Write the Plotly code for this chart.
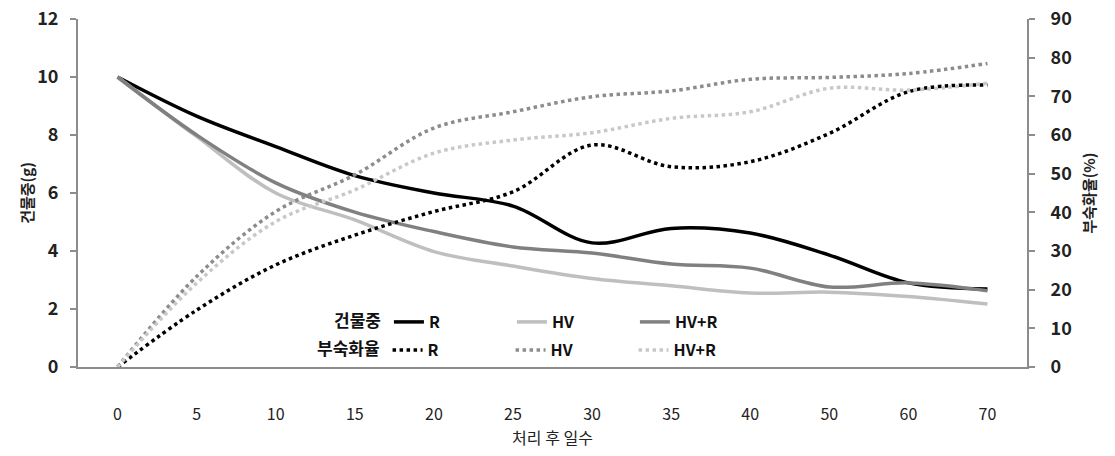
import plotly.graph_objects as go

days = ['0', '5', '10', '15', '20', '25', '30', '35', '40', '50', '60', '70']

# 건물중 (g) - left axis
dw_R = [10, 8.65, 7.6, 6.6, 6.0, 5.55, 4.28, 4.78, 4.62, 3.86, 2.9, 2.69]
dw_HV = [10, 7.95, 6.0, 5.07, 3.98, 3.48, 3.05, 2.8, 2.55, 2.58, 2.43, 2.17]
dw_HVR = [10, 8.0, 6.35, 5.34, 4.67, 4.14, 3.93, 3.55, 3.41, 2.76, 2.9, 2.63]

# 부숙화율 (%) - right axis
min_R = [0, 14.7, 26.4, 34.1, 40.2, 45.3, 57.4, 51.8, 53.1, 60.4, 71.2, 72.9]
min_HV = [0, 23.4, 40.2, 49.7, 61.8, 66.0, 69.9, 71.4, 74.4, 74.9, 75.9, 78.5]
min_HVR = [0, 21.7, 37.6, 45.8, 55.3, 58.7, 60.6, 64.3, 66.0, 72.1, 71.6, 73.4]

names = ['R', 'HV', 'HV+R']
solid_colors = ['#000000', '#bfbfbf', '#808080']
dot_colors = ['#000000', '#8c8c8c', '#c8c8c8']

FONT = 'Noto Sans CJK KR'

fig = go.Figure()

for name, ys, col in zip(names, [dw_R, dw_HV, dw_HVR], solid_colors):
    fig.add_trace(go.Scatter(
        x=days, y=ys, name=name, mode='lines',
        line=dict(color=col, width=3.5, shape='spline', smoothing=1.0),
        legend='legend', yaxis='y'))

for name, ys, col in zip(names, [min_R, min_HV, min_HVR], dot_colors):
    fig.add_trace(go.Scatter(
        x=days, y=ys, name=name, mode='lines',
        line=dict(color=col, width=3.5, dash='dot', shape='spline', smoothing=1.0),
        legend='legend2', yaxis='y2'))

W, H = 1115, 456
L, R, T, B = 78, 88, 19, 89
pw = W - L - R
ph = H - T - B

def px(x):
    return (x - L) / pw

def py(y):
    return (H - B - y) / ph

legend_common = dict(
    orientation='h', xanchor='left', yanchor='middle',
    bgcolor='rgba(0,0,0,0)', entrywidth=78, entrywidthmode='pixels',
    font=dict(family=FONT, size=16, color='#111', weight='bold'),
    itemclick=False, tracegroupgap=0,
)

title_font = dict(family=FONT, size=17, color='#111', weight='bold')

fig.update_layout(
    width=W, height=H,
    margin=dict(l=L, r=R, t=T, b=B, autoexpand=False),
    plot_bgcolor='white', paper_bgcolor='white',
    font=dict(family=FONT, size=15, color='#222'),
    showlegend=True,
    legend=dict(legend_common, x=px(332), y=py(322),
                title=dict(text='건물중', side='left', font=title_font)),
    legend2=dict(legend_common, x=px(315), y=py(350),
                 title=dict(text='부숙화율', side='left', font=title_font)),
    xaxis=dict(
        type='category', range=[-0.5, 11.5], showgrid=False, zeroline=False,
        automargin=False,
        showline=True, linecolor='#8c8c8c', linewidth=2,
        ticks='', ticklabelstandoff=32,
        tickfont=dict(family=FONT, size=16, color='#222'),
        title=dict(text='처리 후 일수', standoff=4,
                   font=dict(family=FONT, size=16, color='#222')),
    ),
    yaxis=dict(
        range=[0, 12], dtick=2, showgrid=False, zeroline=False,
        automargin=False,
        showline=True, linecolor='#8c8c8c', linewidth=2,
        ticks='outside', ticklen=6, tickcolor='#8c8c8c', tickwidth=1.5,
        ticklabelstandoff=8,
        tickfont=dict(family=FONT, size=18, color='#222', weight='bold'),
        title=dict(text='건물중(g)', standoff=0,
                   font=dict(family=FONT, size=15, color='#222', weight='bold')),
    ),
    yaxis2=dict(
        range=[0, 90], dtick=10, overlaying='y', side='right',
        automargin=False,
        showgrid=False, zeroline=False,
        showline=True, linecolor='#8c8c8c', linewidth=2,
        ticks='outside', ticklen=6, tickcolor='#8c8c8c', tickwidth=1.5,
        ticklabelstandoff=12,
        tickfont=dict(family=FONT, size=18, color='#222', weight='bold'),
        title=dict(text='부숙화율(%)', standoff=14,
                   font=dict(family=FONT, size=15, color='#222', weight='bold')),
    ),
)

fig.write_html('out.html')
